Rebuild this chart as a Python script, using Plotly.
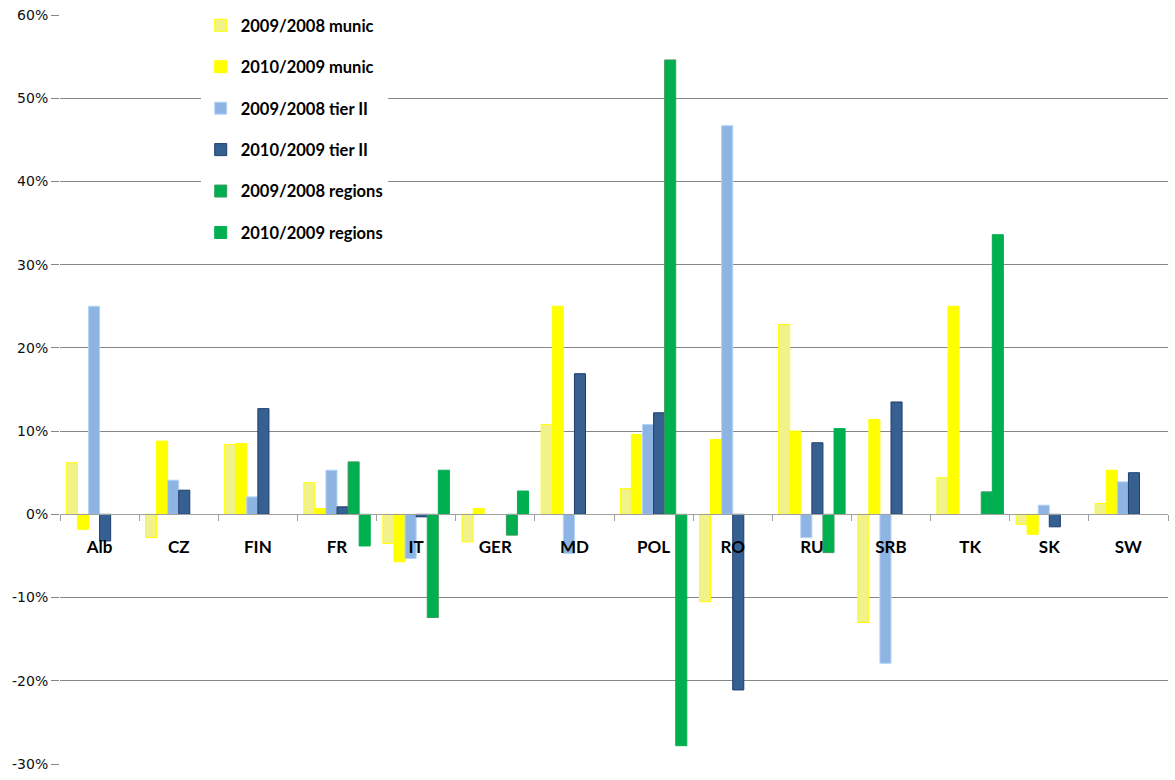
import plotly.graph_objects as go

# Year-on-year change by country and level of government
countries = ["Alb", "CZ", "FIN", "FR", "IT", "GER", "MD", "POL", "RO", "RU", "SRB", "TK", "SK", "SW"]

munic_09_08 = [0.062, -0.028, 0.084, 0.038, -0.035, -0.033, 0.108, 0.031, -0.105, 0.228, -0.130, 0.044, -0.012, 0.013]
munic_10_09 = [-0.018, 0.088, 0.085, 0.007, -0.057, 0.007, 0.250, 0.096, 0.090, 0.100, 0.114, 0.250, -0.024, 0.053]
tier2_09_08 = [0.250, 0.041, 0.021, 0.053, -0.053, None, -0.047, 0.108, 0.467, -0.028, -0.179, None, 0.011, 0.039]
tier2_10_09 = [-0.032, 0.029, 0.127, 0.009, -0.003, None, 0.169, 0.122, -0.211, 0.086, 0.135, None, -0.015, 0.050]
regions_09_08 = [None, None, None, 0.063, -0.124, -0.025, None, 0.546, None, -0.046, None, 0.027, None, None]
regions_10_09 = [None, None, None, -0.038, 0.053, 0.028, None, -0.278, None, 0.103, None, 0.336, None, None]

# Value axis ticks
y_tick_values = [-0.3, -0.2, -0.1, 0.0, 0.1, 0.2, 0.3, 0.4, 0.5, 0.6]
y_tick_labels = ["-30%", "-20%", "-10%", "0%", "10%", "20%", "30%", "40%", "50%", "60%"]

series = [
    ("2009/2008 munic", munic_09_08, "#F2F28A", "#FFFF00"),
    ("2010/2009 munic", munic_10_09, "#FFFF00", "#FFFF00"),
    ("2009/2008 tier II", tier2_09_08, "#8DB4E2", "#B3D3F7"),
    ("2010/2009 tier II", tier2_10_09, "#366092", "#1F3D6B"),
    ("2009/2008 regions", regions_09_08, "#00B050", "#3C9A5F"),
    ("2010/2009 regions", regions_10_09, "#00B050", "#00B050"),
]

fig = go.Figure()
for name, vals, fill, edge in series:
    fig.add_trace(go.Bar(
        x=countries, y=vals, name=name, legendgroup=name,
        marker=dict(color=fill, line=dict(color=edge, width=1)),
    ))

fig.update_layout(
    width=1175, height=780,
    margin=dict(l=60, r=7, t=15, b=16),
    paper_bgcolor="white", plot_bgcolor="white",
    barmode="group", bargap=0.16, bargroupgap=0,
    showlegend=True,
    legend=dict(
        x=0.127, y=1.0093, xanchor="left", yanchor="top",
        bgcolor="white", tracegroupgap=17,
        font=dict(family="Lato", size=16.5, color="#000000", weight="bold"),
        itemwidth=30,
    ),
    xaxis=dict(
        type="category", anchor="free", position=1/3,
        showline=True, linecolor="#A0A0A0", linewidth=1,
        ticks="outside", tickson="boundaries", ticklen=6, tickcolor="#A0A0A0",
        showgrid=False, ticklabelstandoff=17,
        tickfont=dict(family="Lato", size=17, color="#000000", weight="bold"),
    ),
    yaxis=dict(
        range=[-0.3, 0.6], tickvals=y_tick_values, ticktext=y_tick_labels,
        showgrid=True, gridcolor="#868686", gridwidth=1,
        zeroline=False, showline=False,
        ticks="outside", ticklen=8, tickcolor="#868686",
        tickfont=dict(family="DejaVu Sans", size=14, color="#111111"),
    ),
)

fig.write_html("out.html")
